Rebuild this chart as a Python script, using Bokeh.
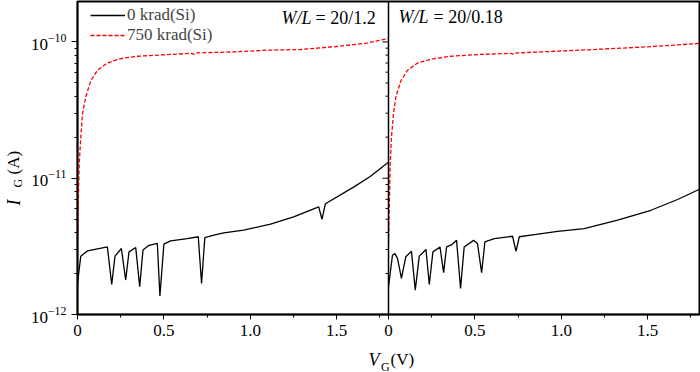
import numpy as np
from bokeh.plotting import figure
from bokeh.layouts import row, column
from bokeh.models import Range1d, FixedTicker, LogTickFormatter, Label, Span
from bokeh.embed import file_html
from bokeh.resources import INLINE

# ---------------- data ----------------
# Panel a: W/L = 20/1.2
vg_a_0 = [0.0, 0.019, 0.058, 0.173, 0.198, 0.217, 0.254, 0.279, 0.298, 0.337, 0.36, 0.379,
          0.414, 0.462, 0.477, 0.5, 0.539, 0.635, 0.699, 0.718, 0.737, 0.789, 0.847, 0.962,
          1.117, 1.251, 1.396, 1.415, 1.435, 1.598, 1.694, 1.79, 1.8]
ig_a_0 = [1.69e-12, 2.68e-12, 2.93e-12, 3.13e-12, 1.66e-12, 2.68e-12, 3.05e-12, 1.79e-12,
          2.88e-12, 3.10e-12, 1.60e-12, 2.97e-12, 3.22e-12, 3.32e-12, 1.37e-12, 3.28e-12,
          3.47e-12, 3.61e-12, 3.72e-12, 1.69e-12, 3.67e-12, 3.82e-12, 3.97e-12, 4.16e-12,
          4.60e-12, 5.20e-12, 6.16e-12, 5.00e-12, 6.50e-12, 8.60e-12, 1.03e-11, 1.28e-11, 1.31e-11]

vg_a_750 = [0.0, 0.004, 0.01, 0.019, 0.029, 0.048, 0.077, 0.116, 0.173, 0.25, 0.347, 0.54,
            0.66, 0.674, 0.69, 0.905, 1.098, 1.29, 1.48, 1.675, 1.8]
ig_a_750 = [3.5e-12, 6.2e-12, 1.28e-11, 2.0e-11, 3.0e-11, 3.96e-11, 5.2e-11, 6.2e-11, 7.0e-11,
            7.55e-11, 7.85e-11, 8.1e-11, 8.25e-11, 8.1e-11, 8.3e-11, 8.45e-11, 8.7e-11, 8.8e-11,
            9.2e-11, 9.8e-11, 1.06e-10]

# Panel b: W/L = 20/0.18
vg_b_0 = [0.0, 0.023, 0.037, 0.052, 0.075, 0.1, 0.133, 0.155, 0.178, 0.217, 0.236, 0.257,
          0.298, 0.319, 0.336, 0.367, 0.394, 0.417, 0.438, 0.492, 0.515, 0.539, 0.558, 0.612,
          0.718, 0.738, 0.757, 0.844, 0.979, 1.133, 1.326, 1.519, 1.673, 1.8]
ig_b_0 = [1.6e-12, 2.72e-12, 2.8e-12, 2.58e-12, 1.84e-12, 2.65e-12, 2.91e-12, 1.51e-12,
          2.68e-12, 3.0e-12, 1.66e-12, 2.88e-12, 3.13e-12, 2.03e-12, 3.13e-12, 3.26e-12,
          3.5e-12, 1.55e-12, 3.13e-12, 3.5e-12, 3.32e-12, 2.03e-12, 3.41e-12, 3.61e-12,
          3.75e-12, 2.91e-12, 3.72e-12, 3.86e-12, 4.08e-12, 4.27e-12, 4.92e-12, 5.82e-12,
          6.98e-12, 8.3e-12]

vg_b_750 = [0.0, 0.01, 0.017, 0.029, 0.043, 0.072, 0.11, 0.168, 0.265, 0.361, 0.535, 0.71,
            0.724, 0.74, 1.11, 1.497, 1.8]
ig_b_750 = [3.3e-12, 1.28e-11, 2.0e-11, 3.0e-11, 3.96e-11, 5.2e-11, 6.2e-11, 7.0e-11, 7.55e-11,
            7.85e-11, 8.1e-11, 8.25e-11, 8.1e-11, 8.3e-11, 8.7e-11, 9.2e-11, 9.75e-11]

x_tick_values = [0.0, 0.5, 1.0, 1.5]
x_tick_labels = ["0", "0.5", "1.0", "1.5"]
x_minor_values = [0.25, 0.75, 1.25, 1.75]
y_major_values = [1e-12, 1e-11, 1e-10]
legend_labels = ["0 krad(Si)", "750 krad(Si)"]
panel_ratio = ["= 20/1.2", "= 20/0.18"]

XMAX = 1.8
YMIN, YMAX = 1e-12, 1.98e-10
FONT = "Liberation Serif"

# ---------------- main figure ----------------
p = figure(width=674, height=350, output_backend="svg", toolbar_location=None,
           x_range=Range1d(0, 2 * XMAX), y_range=Range1d(YMIN, YMAX), y_axis_type="log",
           min_border_left=51, min_border_right=1, min_border_top=1, min_border_bottom=36,
           title=None)
p.extra_x_ranges = {"right": Range1d(-XMAX, XMAX)}
p.grid.visible = False
p.outline_line_color = "black"
p.outline_line_width = 2
p.background_fill_color = "white"
p.border_fill_color = "white"

# x axis shared by both panels
xt = list(x_tick_values) + [XMAX + t for t in x_tick_values]
xm = list(x_minor_values) + [XMAX + t for t in x_minor_values]
xa = p.xaxis[0]
xa.ticker = FixedTicker(ticks=xt, minor_ticks=xm)
xa.major_label_overrides = {t: lab for t, lab in zip(xt, x_tick_labels * 2)}

y_minor = [m * d for d in y_major_values for m in range(2, 10) if m * d <= YMAX]
ya = p.yaxis[0]
ya.ticker = FixedTicker(ticks=y_major_values, minor_ticks=y_minor)
ya.formatter = LogTickFormatter()

for ax in (xa, ya):
    ax.axis_line_color = "black"
    ax.axis_line_width = 1.5
    ax.major_tick_line_color = "black"
    ax.minor_tick_line_color = "black"
    ax.major_tick_in = 0
    ax.minor_tick_in = 0
    ax.major_label_text_font = FONT
    ax.major_label_text_font_size = "17px"
    ax.major_label_text_color = "black"
    ax.major_label_standoff = 5
xa.major_tick_out = 5
xa.minor_tick_out = 3
ya.major_tick_out = 6
ya.minor_tick_out = 3

# divider between the two panels, with tick marks pointing left
p.add_layout(Span(location=XMAX, dimension="height", line_color="black", line_width=1.5))
p.ray(x=[XMAX] * len(y_major_values), y=y_major_values, length=6, length_units="screen",
      angle=np.pi, line_color="black", line_width=1)
p.ray(x=[XMAX] * len(y_minor), y=y_minor, length=3, length_units="screen",
      angle=np.pi, line_color="black", line_width=1)

# ---------------- curves ----------------
p.line(vg_a_0, ig_a_0, line_color="black", line_width=1.3, legend_label=legend_labels[0])
p.line(vg_a_750, ig_a_750, line_color="red", line_width=1.3, line_dash="4 2",
       legend_label=legend_labels[1])
p.line(vg_b_0, ig_b_0, x_range_name="right", line_color="black", line_width=1.3)
p.line(vg_b_750, ig_b_750, x_range_name="right", line_color="red", line_width=1.3,
       line_dash="4 2")

lg = p.legend[0]
lg.location = (13, 269)
lg.margin = 0
lg.padding = 0
lg.spacing = 0
lg.glyph_width = 35
lg.glyph_height = 18
lg.label_height = 18
lg.label_standoff = 2
lg.label_text_font = FONT
lg.label_text_font_size = "17px"
lg.background_fill_alpha = 0
lg.border_line_alpha = 0


def lab(fig, text, x, y, size, style="normal", angle=0.0):
    fig.add_layout(Label(x=x, y=y, x_units="screen", y_units="screen", text=text,
                         text_font=FONT, text_font_size=size, text_font_style=style,
                         text_color="black", text_align="left", text_baseline="alphabetic",
                         angle=angle))


# panel annotations (screen offsets from the frame's lower-left corner)
lab(p, "W/L", 204, 297, "18px", "italic")
lab(p, panel_ratio[0], 238, 297, "18px")
lab(p, "W/L", 321, 298, "18px", "italic")
lab(p, panel_ratio[1], 356, 298, "18px")


def strip(w, h):
    f = figure(width=w, height=h, output_backend="svg", toolbar_location=None,
               x_range=Range1d(0, 1), y_range=Range1d(0, 1),
               x_axis_location=None, y_axis_location=None, title=None,
               min_border=0, min_border_left=0, min_border_right=0,
               min_border_top=0, min_border_bottom=0)
    f.grid.visible = False
    f.outline_line_color = None
    f.background_fill_color = "white"
    f.border_fill_color = "white"
    return f


# y-axis label I_G (A) in a thin strip at the left (its frame is aligned with the main frame)
yfig = strip(26, 350)
lab(yfig, "I", 13, 109, "18px", "italic", np.pi / 2)
lab(yfig, "G", 17, 127, "12px", "normal", np.pi / 2)
lab(yfig, "(A)", 13, 140, "17px", "normal", np.pi / 2)

# x-axis label V_G (V) in a strip below
xfig = strip(700, 22)
lab(xfig, "V", 368, 13, "18px", "italic")
lab(xfig, "G", 380.5, 6, "12px")
lab(xfig, "(V)", 390, 13, "17px")

layout = column(row(yfig, p), xfig)
open("out.html", "w").write(file_html(layout, INLINE))
